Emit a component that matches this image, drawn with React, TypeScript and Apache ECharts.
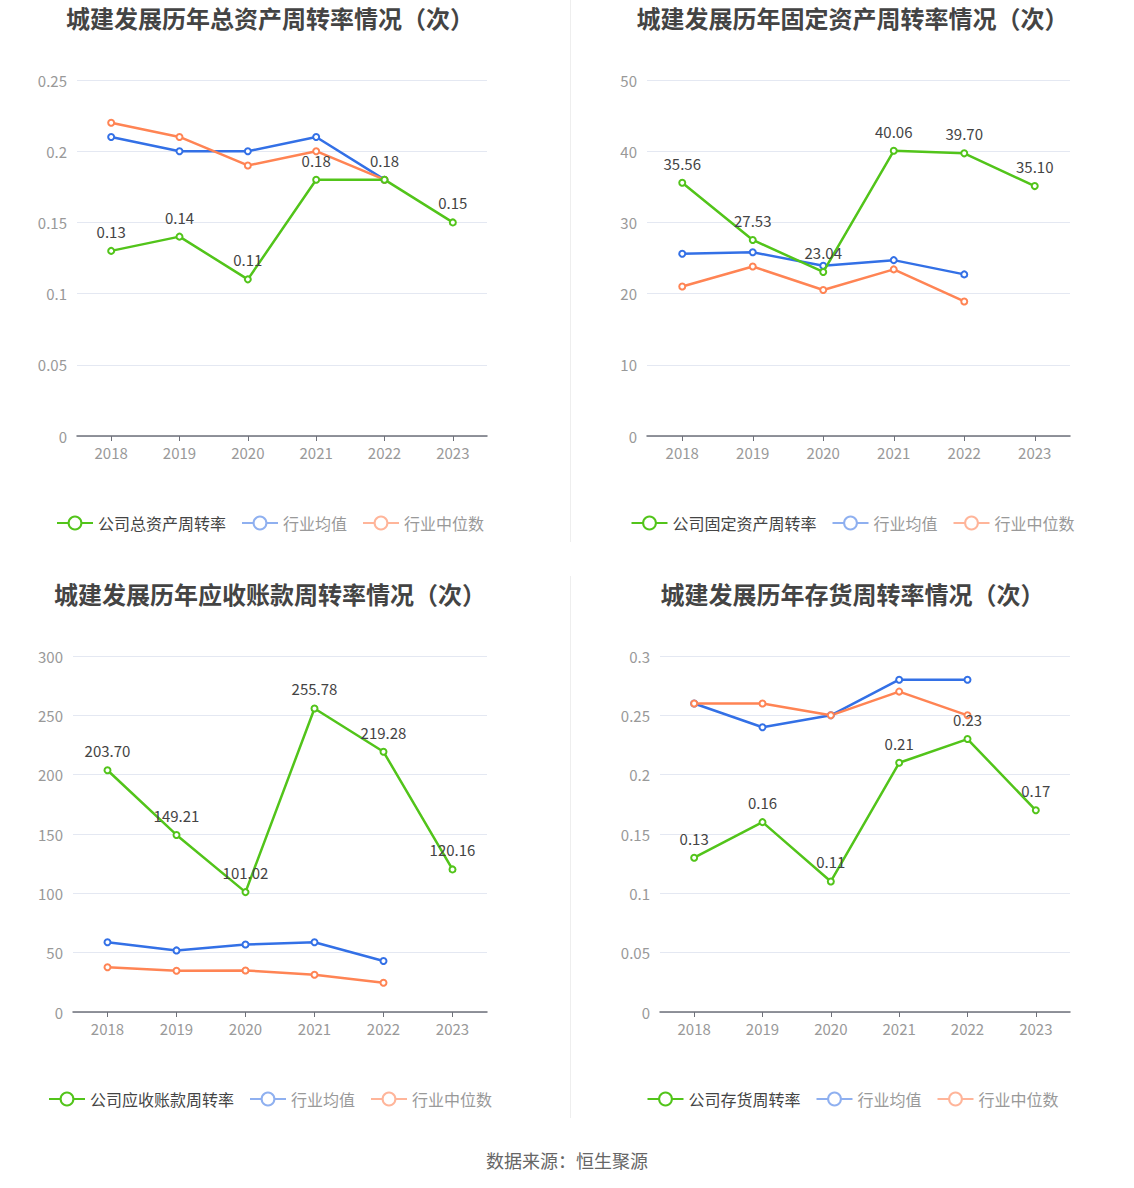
import React, { useEffect, useRef } from "react";
import * as echarts from "echarts";

const years = ["2018", "2019", "2020", "2021", "2022", "2023"];

const totalCompany = [0.13, 0.14, 0.11, 0.18, 0.18, 0.15];
const totalAvg = [0.21, 0.2, 0.2, 0.21, 0.18];
const totalMedian = [0.22, 0.21, 0.19, 0.2, 0.18];

const fixedCompany = [35.56, 27.53, 23.04, 40.06, 39.7, 35.1];
const fixedAvg = [25.6, 25.8, 23.9, 24.7, 22.7];
const fixedMedian = [21.0, 23.8, 20.5, 23.4, 18.9];

const recvCompany = [203.7, 149.21, 101.02, 255.78, 219.28, 120.16];
const recvAvg = [58.8, 51.9, 56.9, 58.8, 43.0];
const recvMedian = [37.7, 34.7, 35.0, 31.4, 24.7];

const invCompany = [0.13, 0.16, 0.11, 0.21, 0.23, 0.17];
const invAvg = [0.26, 0.24, 0.25, 0.28, 0.28];
const invMedian = [0.26, 0.26, 0.25, 0.27, 0.25];

const GREEN = "#52c41a";
const BLUE = "#3370e6";
const ORANGE = "#ff8454";
const FONT = "'Noto Sans CJK SC', 'Noto Sans', sans-serif";

type Cfg = {
  title: string;
  companyName: string;
  company: number[];
  avg: number[];
  median: number[];
  max: number;
  interval: number;
  gridLeft: number;
  gridWidth: number;
};

function buildOption(c: Cfg): any {
  const mkSeries = (name: string, data: number[], color: string, label: boolean, z: number) => ({
    name,
    type: "line",
    data,
    symbol: "emptyCircle",
    symbolSize: 6,
    z,
    lineStyle: { color, width: 2.5 },
    itemStyle: { color, borderWidth: 2 },
    label: label
      ? {
          show: true,
          position: "top",
          distance: 8,
          color: "#444",
          fontSize: 15,
          fontFamily: FONT,
          formatter: (p: any) => Number(p.value).toFixed(2),
        }
      : { show: false },
  });
  return {
    animation: false,
    title: {
      text: c.title,
      left: "center",
      top: 0,
      textStyle: { fontSize: 24, fontWeight: "bold", color: "#444", fontFamily: FONT },
    },
    legend: {
      top: 510,
      left: "center",
      itemWidth: 36,
      itemHeight: 16,
      itemGap: 15,
      textStyle: { fontSize: 16, fontFamily: FONT },
      data: [
        { name: c.companyName, textStyle: { color: "#444" } },
        { name: "行业均值", textStyle: { color: "#999" }, itemStyle: { color: "#8fb0f0", borderColor: "#8fb0f0" }, lineStyle: { color: "#8fb0f0" } },
        { name: "行业中位数", textStyle: { color: "#999" }, itemStyle: { color: "#ffb59a", borderColor: "#ffb59a" }, lineStyle: { color: "#ffb59a" } },
      ],
    },
    grid: { left: c.gridLeft, width: c.gridWidth, top: 80, height: 356 },
    xAxis: {
      type: "category",
      data: years,
      boundaryGap: true,
      axisLine: { lineStyle: { color: "#6e7079", width: 1.5 } },
      axisTick: { show: true, alignWithLabel: true, length: 5, lineStyle: { color: "#6e7079" } },
      axisLabel: { color: "#999", fontSize: 15, fontFamily: FONT, margin: 9 },
    },
    yAxis: {
      type: "value",
      min: 0,
      max: c.max,
      interval: c.interval,
      axisLine: { show: false },
      axisTick: { show: false },
      axisLabel: { color: "#999", fontSize: 15, fontFamily: FONT, margin: 10 },
      splitLine: { lineStyle: { color: "#e4e8f2" } },
    },
    series: [
      mkSeries(c.companyName, c.company, GREEN, true, 3),
      mkSeries("行业均值", c.avg, BLUE, false, 2),
      mkSeries("行业中位数", c.median, ORANGE, false, 2),
    ],
  };
}

function Chart({ cfg, style }: { cfg: Cfg; style: React.CSSProperties }) {
  const ref = useRef<HTMLDivElement>(null);
  useEffect(() => {
    if (!ref.current) return;
    const chart = echarts.init(ref.current, undefined, { renderer: "svg" });
    chart.setOption(buildOption(cfg));
    return () => chart.dispose();
  }, []);
  return <div ref={ref} style={{ position: "absolute", ...style }} />;
}

const cfgs: Cfg[] = [
  {
    title: "城建发展历年总资产周转率情况（次）",
    companyName: "公司总资产周转率",
    company: totalCompany,
    avg: totalAvg,
    median: totalMedian,
    max: 0.25,
    interval: 0.05,
    gridLeft: 77,
    gridWidth: 410,
  },
  {
    title: "城建发展历年固定资产周转率情况（次）",
    companyName: "公司固定资产周转率",
    company: fixedCompany,
    avg: fixedAvg,
    median: fixedMedian,
    max: 50,
    interval: 10,
    gridLeft: 76,
    gridWidth: 423,
  },
  {
    title: "城建发展历年应收账款周转率情况（次）",
    companyName: "公司应收账款周转率",
    company: recvCompany,
    avg: recvAvg,
    median: recvMedian,
    max: 300,
    interval: 50,
    gridLeft: 73,
    gridWidth: 414,
  },
  {
    title: "城建发展历年存货周转率情况（次）",
    companyName: "公司存货周转率",
    company: invCompany,
    avg: invAvg,
    median: invMedian,
    max: 0.3,
    interval: 0.05,
    gridLeft: 89,
    gridWidth: 410,
  },
];

export default function App() {
  return (
    <div style={{ position: "absolute", left: 0, top: 0, width: 1134, height: 1188, background: "#fff", overflow: "hidden" }}>
      <Chart cfg={cfgs[0]} style={{ left: 0, top: 0, width: 540, height: 560 }} />
      <Chart cfg={cfgs[1]} style={{ left: 571, top: 0, width: 563, height: 560 }} />
      <Chart cfg={cfgs[2]} style={{ left: 0, top: 576, width: 540, height: 560 }} />
      <Chart cfg={cfgs[3]} style={{ left: 571, top: 576, width: 563, height: 560 }} />
      <div style={{ position: "absolute", left: 570, top: 0, width: 1, height: 542, background: "#eeeeee" }} />
      <div style={{ position: "absolute", left: 570, top: 576, width: 1, height: 542, background: "#eeeeee" }} />
      <div
        style={{
          position: "absolute",
          left: 0,
          width: 1134,
          top: 1148,
          textAlign: "center",
          fontSize: 18,
          color: "#666",
          fontFamily: FONT,
          lineHeight: "24px",
        }}
      >
        数据来源：恒生聚源
      </div>
    </div>
  );
}
